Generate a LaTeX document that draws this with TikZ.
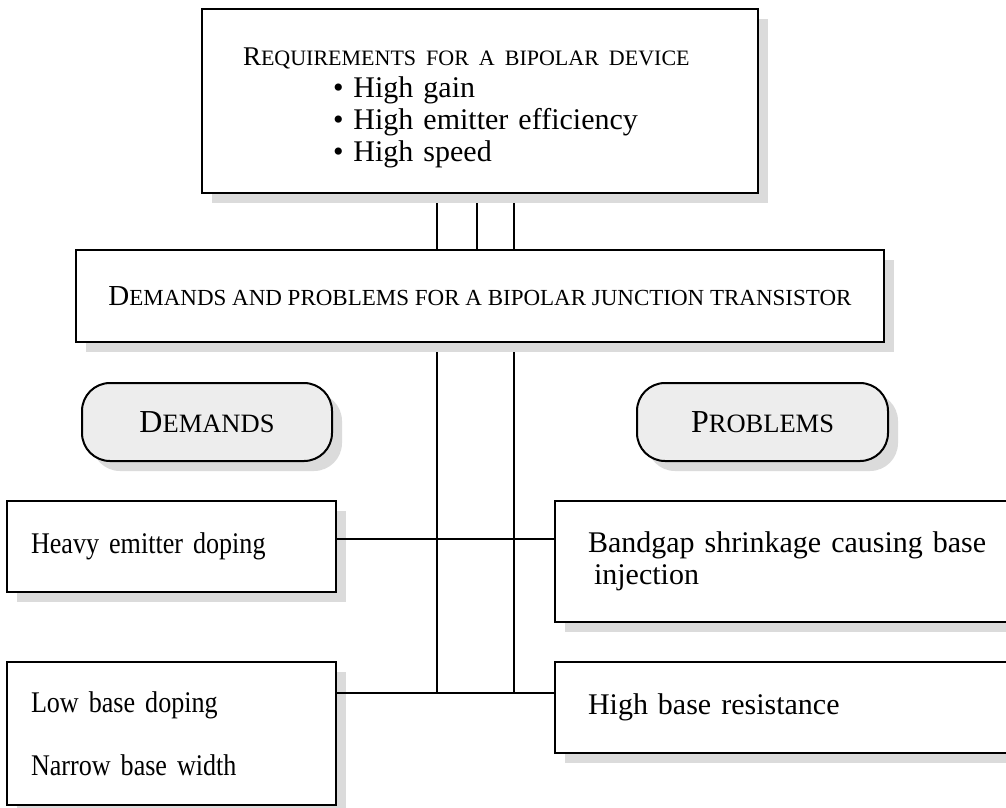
\documentclass[tikz,border=0pt]{standalone}
\usepackage{fontspec}
\setmainfont{Liberation Serif}
\newfontfamily\narrowserif[FakeStretch=0.87]{Liberation Serif}
\usetikzlibrary{shadows}

\newcommand{\smc}[1]{{\fontsize{23}{32}\selectfont #1}}
\newcommand{\bigsmc}[1]{{\fontsize{26.5}{32}\selectfont #1}}

\tikzset{
  plainbox/.style={draw, line width=2pt, fill=white, anchor=north west, outer sep=0pt,
    drop shadow={shadow xshift=10pt, shadow yshift=-10pt, fill=black!14, opacity=1}},
  pill/.style={plainbox, rounded corners=28pt, fill=black!7},
  wire/.style={line width=1.6pt},
  big/.style={font=\fontsize{30}{32}\selectfont},
  narrow/.style={font=\narrowserif\fontsize{30}{32}\selectfont}
}

\begin{document}
\begin{tikzpicture}[x=1pt, y=-1pt, font=\fontsize{26}{32}\selectfont]
  \path[use as bounding box, clip] (0,0) rectangle (1006,807);

  \node[plainbox, big, minimum width=556pt, minimum height=184pt, text width=474pt, align=left] (req) at (202,9)
    {\rule{0pt}{31pt}{\fontsize{27}{32}\selectfont R}{\fontsize{22}{32}\selectfont EQUIREMENTS FOR A BIPOLAR DEVICE}\\
     \hspace*{90pt}• High gain\\
     \hspace*{90pt}• High emitter efficiency\\
     \hspace*{90pt}• High speed};
  \node[plainbox, minimum width=808pt, minimum height=92pt] (dp) at (76,250)
    {{\fontsize{29}{32}\selectfont D}\smc{EMANDS AND PROBLEMS FOR A BIPOLAR JUNCTION TRANSISTOR}};

  \node[pill, minimum width=250pt, minimum height=78pt] (dem) at (82,383)
    {{\fontsize{32}{32}\selectfont D}\bigsmc{EMANDS}};
  \node[pill, minimum width=251pt, minimum height=78pt] (prob) at (637,383)
    {{\fontsize{32}{32}\selectfont P}\bigsmc{ROBLEMS}};

  \node[plainbox, narrow, minimum width=329pt, minimum height=91pt, text width=281pt, align=left] (heavy) at (7,501)
    {Heavy emitter doping};
  \node[plainbox, narrow, minimum width=329pt, minimum height=143pt, text width=281pt, align=left] (low) at (7,662)
    {Low base doping\\[31pt]Narrow base width};
  \node[plainbox, big, minimum width=470pt, minimum height=121pt, text width=404pt, align=left] (gap) at (555,501)
    {Bandgap shrinkage causing base\\\hspace*{6pt}injection};
  \node[plainbox, big, minimum width=470pt, minimum height=91pt, text width=404pt, align=left] (res) at (555,662)
    {High base resistance};

  \coordinate (colA) at (437,0);
  \coordinate (colB) at (477,0);
  \coordinate (colC) at (514,0);
  \coordinate (rowA) at (0,539);
  \coordinate (rowB) at (0,693);

  \foreach \c in {colA,colB,colC}
    \draw[wire] ([yshift=-10pt]req.south -| \c) -- (dp.north -| \c);
  \foreach \c in {colA,colC}
    \draw[wire] ([yshift=-10pt]dp.south -| \c) -- (rowB -| \c);
  \draw[wire] (heavy.east |- rowA) -- (gap.west |- rowA);
  \draw[wire] (low.east |- rowB) -- (res.west |- rowB);
\end{tikzpicture}
\end{document}
